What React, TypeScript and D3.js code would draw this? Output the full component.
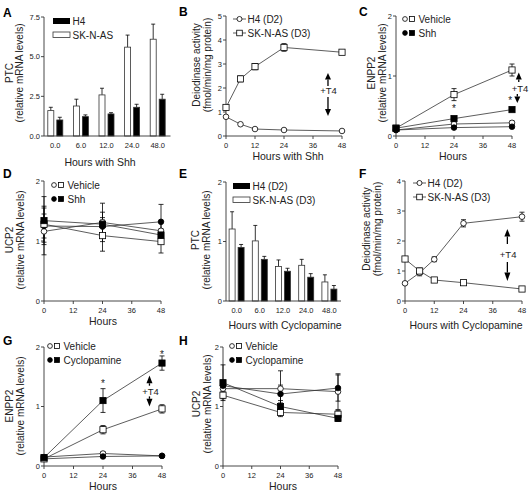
import React from 'react';
import * as d3 from 'd3';

const FONT = '"Liberation Sans", Arial, Helvetica, sans-serif';
const INK = '#222';
const LINE = '#333';

// ---------- Panel A ----------
const aHours = ['0.0', '6.0', '12.0', '24.0', '48.0'];
const aSKNAS = [1.6, 1.89, 2.59, 5.6, 6.1];
const aSKNASErr = [0.21, 0.43, 0.42, 0.76, 0.95];
const aH4 = [1.01, 1.22, 1.39, 1.81, 2.32];
const aH4Err = [0.17, 0.11, 0.08, 0.19, 0.31];
const aYTicks = [0, 2.5, 5, 7.5];

// ---------- Panel B ----------
const bHours = [0, 6, 12, 24, 48];
const bH4 = [0.8, 0.49, 0.29, 0.25, 0.21];
const bH4Err = [0.04, 0.03, 0.03, 0.03, 0.02];
const bSKNAS = [1.19, 2.38, 2.89, 3.69, 3.49];
const bSKNASErr = [0.06, 0.12, 0.13, 0.16, 0.05];
const bYTicks = [0, 1, 2, 3, 4, 5];

// ---------- shared ----------
const timeHours = [0, 24, 48];
const hourTicks = [0, 12, 24, 36, 48];
const unitTicks2 = [0, 1, 2];

// ---------- Panel C ----------
const cVehicleH4 = [0.1, 0.2, 0.22];
const cVehicleH4Err = [0.02, 0.02, 0.03];
const cVehicleSK = [0.13, 0.69, 1.1];
const cVehicleSKErr = [0.04, 0.1, 0.1];
const cShhH4 = [0.1, 0.14, 0.155];
const cShhH4Err = [0.02, 0.02, 0.02];
const cShhSK = [0.13, 0.29, 0.44];
const cShhSKErr = [0.03, 0.02, 0.02];

// ---------- Panel D ----------
const dVehicleH4 = [1.16, 1.31, 1.17];
const dVehicleH4Err = [0.39, 0.32, 0.15];
const dVehicleSK = [1.28, 1.09, 0.99];
const dVehicleSKErr = [0.3, 0.26, 0.19];
const dShhH4 = [1.25, 1.24, 1.32];
const dShhH4Err = [0.2, 0.15, 0.29];
const dShhSK = [1.34, 1.28, 1.1];
const dShhSKErr = [0.4, 0.2, 0.1];

// ---------- Panel E ----------
const eHours = ['0.0', '6.0', '12.0', '24.0', '48.0'];
const eSKNAS = [1.21, 1.01, 0.58, 0.6, 0.32];
const eSKNASErr = [0.29, 0.26, 0.11, 0.1, 0.12];
const eH4 = [0.9, 0.7, 0.5, 0.4, 0.2];
const eH4Err = [0.05, 0.05, 0.05, 0.06, 0.06];

// ---------- Panel F ----------
const fHours = [0, 6, 12, 24, 48];
const fH4 = [0.59, 0.94, 1.39, 2.59, 2.81];
const fH4Err = [0.04, 0.1, 0.08, 0.12, 0.15];
const fSKNAS = [1.4, 1.0, 0.7, 0.61, 0.4];
const fSKNASErr = [0.04, 0.1, 0.05, 0.04, 0.04];
const fYTicks = [0, 1, 2, 3, 4];

// ---------- Panel G ----------
const gVehicleH4 = [0.15, 0.21, 0.17];
const gVehicleH4Err = [0.03, 0.03, 0.02];
const gVehicleSK = [0.12, 0.61, 0.96];
const gVehicleSKErr = [0.04, 0.07, 0.07];
const gCycloH4 = [0.12, 0.16, 0.17];
const gCycloH4Err = [0.03, 0.02, 0.02];
const gCycloSK = [0.14, 1.1, 1.73];
const gCycloSKErr = [0.05, 0.2, 0.12];

// ---------- Panel H ----------
const hVehicleH4 = [1.3, 1.3, 1.25];
const hVehicleH4Err = [0.06, 0.3, 0.3];
const hVehicleSK = [1.19, 0.9, 0.87];
const hVehicleSKErr = [0.06, 0.07, 0.06];
const hCycloH4 = [1.35, 1.21, 1.31];
const hCycloH4Err = [0.06, 0.15, 0.22];
const hCycloSK = [1.4, 1.0, 0.8];
const hCycloSKErr = [0.3, 0.1, 0.05];

type Shape = 'circle' | 'square';
type Series = { values: number[]; errs: number[]; shape: Shape; filled: boolean; color?: string };

function Marker({ x, y, shape, filled, s = 1 }: { x: number; y: number; shape: Shape; filled: boolean; s?: number }) {
  const fill = filled ? '#000' : '#fff';
  if (shape === 'circle') {
    return <circle cx={x} cy={y} r={2.8 * s} fill={fill} stroke="#000" strokeWidth={0.8} />;
  }
  const h = 3.1 * s;
  return <rect x={x - h} y={y - h} width={2 * h} height={2 * h} fill={fill} stroke="#000" strokeWidth={0.8} />;
}

function YTitle({ lines, xs, cy }: { lines: string[]; xs: number[]; cy: number }) {
  return (
    <g>
      {lines.map((l, i) => (
        <text key={i} transform={`translate(${xs[i]},${cy}) rotate(-90)`} textAnchor="middle" fontSize={10} fill={INK}>
          {l}
        </text>
      ))}
    </g>
  );
}

function PanelLetter({ x, y, t }: { x: number; y: number; t: string }) {
  return (
    <text x={x} y={y} fontSize={12} fontWeight="bold" fill="#000">
      {t}
    </text>
  );
}

function VArrow({ x, tip, base, stemEnd }: { x: number; tip: number; base: number; stemEnd: number }) {
  return (
    <g>
      <line x1={x} x2={x} y1={base} y2={stemEnd} stroke="#000" strokeWidth={1.3} />
      <polygon points={`${x},${tip} ${x - 3},${base} ${x + 3},${base}`} fill="#000" />
    </g>
  );
}

function LinePanel(props: {
  x0: number; x1: number; y0: number; y1: number; yMax: number; yTicks: number[];
  hours: number[]; series: Series[]; children?: (x: any, y: any) => React.ReactNode;
}) {
  const { x0, x1, y0, y1, yMax, yTicks, hours, series, children } = props;
  const x = d3.scaleLinear().domain([0, 48]).range([x0, x1]);
  const y = d3.scaleLinear().domain([0, yMax]).range([y0, y1]);
  const line = d3.line<number>().x((_, i) => x(hours[i])).y((d) => y(d));
  return (
    <g fontFamily={FONT}>
      <line x1={x0} x2={x0} y1={y0} y2={y1} stroke={LINE} strokeWidth={0.9} />
      <line x1={x0} x2={x1} y1={y0} y2={y0} stroke={LINE} strokeWidth={0.9} />
      {yTicks.map((t) => (
        <g key={'y' + t}>
          <line x1={x0 - 3} x2={x0} y1={y(t)} y2={y(t)} stroke={LINE} strokeWidth={0.9} />
          <text x={x0 - 4} y={y(t) + 2.6} textAnchor="end" fontSize={7.5} fill={INK}>{t}</text>
        </g>
      ))}
      {hourTicks.map((t) => (
        <g key={'x' + t}>
          <line x1={x(t)} x2={x(t)} y1={y0} y2={y0 + 3} stroke={LINE} strokeWidth={0.9} />
          <text x={x(t)} y={y0 + 11.5} textAnchor="middle" fontSize={7.5} fill={INK}>{t}</text>
        </g>
      ))}
      {series.map((s, i) => (
        <path key={'l' + i} d={line(s.values) || ''} fill="none" stroke={s.color || LINE} strokeWidth={0.8} />
      ))}
      {series.map((s, i) =>
        s.values.map((v, j) => {
          const e = s.errs[j];
          const cx = x(hours[j]);
          return (
            <g key={'e' + i + '-' + j} stroke="#000" strokeWidth={0.8}>
              <line x1={cx} x2={cx} y1={y(v - e)} y2={y(v + e)} />
              <line x1={cx - 2.5} x2={cx + 2.5} y1={y(v + e)} y2={y(v + e)} />
              <line x1={cx - 2.5} x2={cx + 2.5} y1={y(v - e)} y2={y(v - e)} />
            </g>
          );
        })
      )}
      {series.map((s, i) =>
        s.values.map((v, j) => (
          <Marker key={'m' + i + '-' + j} x={x(hours[j])} y={y(v)} shape={s.shape} filled={s.filled} />
        ))
      )}
      {children ? children(x, y) : null}
    </g>
  );
}

function BarPanel(props: {
  axisX: number; r0: number; r1: number; y0: number; y1: number; yMax: number; yTicks: number[];
  cats: string[]; white: number[]; whiteErr: number[]; black: number[]; blackErr: number[]; fmt: (n: number) => string;
}) {
  const { axisX, r0, r1, y0, y1, yMax, yTicks, cats, white, whiteErr, black, blackErr, fmt } = props;
  const xb = d3.scaleBand<string>().domain(cats).range([r0, r1]);
  const y = d3.scaleLinear().domain([0, yMax]).range([y0, y1]);
  const c = (k: string) => (xb(k) as number) + xb.bandwidth() / 2;
  const bw = 6;
  const bar = (cx: number, v: number, e: number, filled: boolean, key: string) => (
    <g key={key}>
      <line x1={cx} x2={cx} y1={y(v)} y2={y(v + e)} stroke="#000" strokeWidth={0.8} />
      <line x1={cx - 2} x2={cx + 2} y1={y(v + e)} y2={y(v + e)} stroke="#000" strokeWidth={0.8} />
      <rect x={cx - bw / 2} y={y(v)} width={bw} height={y(0) - y(v)} fill={filled ? '#000' : '#fff'} stroke="#333" strokeWidth={0.8} />
    </g>
  );
  return (
    <g fontFamily={FONT}>
      {cats.map((k, i) => (
        <g key={k}>
          {bar(c(k) - 4.5, white[i], whiteErr[i], false, 'w' + k)}
          {bar(c(k) + 4.5, black[i], blackErr[i], true, 'b' + k)}
          <text x={c(k)} y={y0 + 11.5} textAnchor="middle" fontSize={7.5} fill={INK}>{k}</text>
        </g>
      ))}
      <line x1={axisX} x2={axisX} y1={y0} y2={y1} stroke={LINE} strokeWidth={0.9} />
      <line x1={axisX} x2={r1} y1={y0} y2={y0} stroke={LINE} strokeWidth={0.9} />
      {yTicks.map((t) => (
        <g key={'y' + t}>
          <line x1={axisX - 3} x2={axisX} y1={y(t)} y2={y(t)} stroke={LINE} strokeWidth={0.9} />
          <text x={axisX - 4} y={y(t) + 2.6} textAnchor="end" fontSize={7.5} fill={INK}>{fmt(t)}</text>
        </g>
      ))}
    </g>
  );
}

function BarLegend({ x, y, labels }: { x: number; y: number; labels: string[] }) {
  return (
    <g fontFamily={FONT}>
      <rect x={x} y={y - 3} width={17} height={6} fill="#000" />
      <text x={x + 19.5} y={y + 3.5} fontSize={10} fill={INK}>{labels[0]}</text>
      <rect x={x} y={y + 11} width={17} height={5.5} fill="#fff" stroke="#333" strokeWidth={0.8} />
      <text x={x + 19.5} y={y + 17.5} fontSize={10} fill={INK}>{labels[1]}</text>
    </g>
  );
}

function LineLegend({ x, y, labels }: { x: number; y: number; labels: string[] }) {
  return (
    <g fontFamily={FONT}>
      <line x1={x} x2={x + 13} y1={y} y2={y} stroke={LINE} strokeWidth={0.8} />
      <Marker x={x + 6.5} y={y} shape="circle" filled={false} s={0.9} />
      <text x={x + 14.5} y={y + 3.5} fontSize={10} fill={INK}>{labels[0]}</text>
      <line x1={x} x2={x + 13} y1={y + 14} y2={y + 14} stroke={LINE} strokeWidth={0.8} />
      <Marker x={x + 6.5} y={y + 14} shape="square" filled={false} s={0.9} />
      <text x={x + 14.5} y={y + 17.5} fontSize={10} fill={INK}>{labels[1]}</text>
    </g>
  );
}

function PairLegend({ x, y, labels }: { x: number; y: number; labels: string[] }) {
  return (
    <g fontFamily={FONT}>
      <Marker x={x} y={y} shape="circle" filled={false} s={0.85} />
      <Marker x={x + 7} y={y} shape="square" filled={false} s={0.8} />
      <text x={x + 13.5} y={y + 3.5} fontSize={10} fill={INK}>{labels[0]}</text>
      <Marker x={x} y={y + 14} shape="circle" filled={true} s={0.85} />
      <Marker x={x + 7} y={y + 14} shape="square" filled={true} s={0.8} />
      <text x={x + 13.5} y={y + 17.5} fontSize={10} fill={INK}>{labels[1]}</text>
    </g>
  );
}

function XTitle({ x, y, t }: { x: number; y: number; t: string }) {
  return <text x={x} y={y} textAnchor="middle" fontSize={10.5} fill={INK} fontFamily={FONT}>{t}</text>;
}

function quad(vh4: number[], vh4e: number[], vsk: number[], vske: number[], sh4: number[], sh4e: number[], ssk: number[], sske: number[]): Series[] {
  return [
    { values: vh4, errs: vh4e, shape: 'circle', filled: false },
    { values: sh4, errs: sh4e, shape: 'circle', filled: true },
    { values: vsk, errs: vske, shape: 'square', filled: false },
    { values: ssk, errs: sske, shape: 'square', filled: true },
  ];
}

export default function App() {
  const f1 = d3.format('.1f');
  const fi = d3.format('d');
  return (
    <svg width={530} height={495} style={{ position: 'absolute', left: 0, top: 0, background: '#fff' }} fontFamily={FONT}>
      {/* A */}
      <PanelLetter x={3} y={17} t="A" />
      <BarPanel axisX={44} r0={42.5} r1={170.5} y0={136} y1={17} yMax={7.5} yTicks={aYTicks}
        cats={aHours} white={aSKNAS} whiteErr={aSKNASErr} black={aH4} blackErr={aH4Err} fmt={f1} />
      <BarLegend x={53} y={21} labels={['H4', 'SK-N-AS']} />
      <YTitle lines={['PTC', '(relative mRNA levels)']} xs={[12.5, 22.5]} cy={73} />
      <XTitle x={100} y={166} t="Hours with Shh" />

      {/* B */}
      <PanelLetter x={179} y={16} t="B" />
      <LinePanel x0={226} x1={342} y0={136} y1={16} yMax={5} yTicks={bYTicks} hours={bHours}
        series={[
          { values: bH4, errs: bH4Err, shape: 'circle', filled: false },
          { values: bSKNAS, errs: bSKNASErr, shape: 'square', filled: false },
        ]}>
        {(x, y) => (
          <g>
            <VArrow x={x(42.2)} tip={y(2.63)} base={y(2.35)} stemEnd={y(2.08)} />
            <text x={x(42.4)} y={y(1.77)} textAnchor="middle" fontSize={9.5} fill={INK}>+T4</text>
            <VArrow x={x(42.2)} tip={y(0.83)} base={y(1.12)} stemEnd={y(1.63)} />
          </g>
        )}
      </LinePanel>
      <LineLegend x={233} y={19} labels={['H4 (D2)', 'SK-N-AS (D3)']} />
      <YTitle lines={['Deiodinase activity', '(fmol/min/mg protein)']} xs={[199.5, 210.5]} cy={65} />
      <XTitle x={288} y={160} t="Hours with Shh" />

      {/* C */}
      <PanelLetter x={359} y={16} t="C" />
      <LinePanel x0={396} x1={512} y0={136} y1={16} yMax={2} yTicks={unitTicks2} hours={timeHours}
        series={quad(cVehicleH4, cVehicleH4Err, cVehicleSK, cVehicleSKErr, cShhH4, cShhH4Err, cShhSK, cShhSKErr)}>
        {(x, y) => (
          <g>
            <text x={x(24)} y={y(0.4)} textAnchor="middle" fontSize={10} fill={INK}>*</text>
            <text x={x(47.3)} y={y(0.54)} textAnchor="middle" fontSize={10} fill={INK}>*</text>
            <VArrow x={x(50.8)} tip={y(1.06)} base={y(0.94)} stemEnd={y(0.9)} />
            <text x={x(47.9)} y={y(0.73)} fontSize={9.5} fill={INK}>+T4</text>
            <VArrow x={x(50.2)} tip={y(0.55)} base={y(0.66)} stemEnd={y(0.7)} />
          </g>
        )}
      </LinePanel>
      <PairLegend x={405} y={19} labels={['Vehicle', 'Shh']} />
      <YTitle lines={['ENPP2', '(relative mRNA levels)']} xs={[375, 385.5]} cy={73} />
      <XTitle x={453} y={160} t="Hours" />

      {/* D */}
      <PanelLetter x={3} y={178} t="D" />
      <LinePanel x0={44} x1={161} y0={301} y1={181} yMax={2} yTicks={unitTicks2} hours={timeHours}
        series={quad(dVehicleH4, dVehicleH4Err, dVehicleSK, dVehicleSKErr, dShhH4, dShhH4Err, dShhSK, dShhSKErr)} />
      <PairLegend x={54} y={185} labels={['Vehicle', 'Shh']} />
      <YTitle lines={['UCP2', '(relative mRNA levels)']} xs={[13, 23.5]} cy={240} />
      <XTitle x={103} y={325} t="Hours" />

      {/* E */}
      <PanelLetter x={179} y={178} t="E" />
      <BarPanel axisX={226} r0={225} r1={341} y0={301} y1={182} yMax={2} yTicks={unitTicks2}
        cats={eHours} white={eSKNAS} whiteErr={eSKNASErr} black={eH4} blackErr={eH4Err} fmt={fi} />
      <BarLegend x={233} y={186} labels={['H4 (D2)', 'SK-N-AS (D3)']} />
      <YTitle lines={['PTC', '(relative mRNA levels)']} xs={[199, 210]} cy={240} />
      <XTitle x={285} y={329} t="Hours with Cyclopamine" />

      {/* F */}
      <PanelLetter x={359} y={178} t="F" />
      <LinePanel x0={405} x1={522} y0={301} y1={181} yMax={4} yTicks={fYTicks} hours={fHours}
        series={[
          { values: fH4, errs: fH4Err, shape: 'circle', filled: false },
          { values: fSKNAS, errs: fSKNASErr, shape: 'square', filled: false },
        ]}>
        {(x, y) => (
          <g>
            <VArrow x={x(42)} tip={y(2.4)} base={y(2.15)} stemEnd={y(1.9)} />
            <text x={x(42.3)} y={y(1.43)} textAnchor="middle" fontSize={9.5} fill={INK}>+T4</text>
            <VArrow x={x(42)} tip={y(0.67)} base={y(0.95)} stemEnd={y(1.3)} />
          </g>
        )}
      </LinePanel>
      <LineLegend x={413} y={183} labels={['H4 (D2)', 'SK-N-AS (D3)']} />
      <YTitle lines={['Deiodinase activity', '(fmol/min/mg protein)']} xs={[369.5, 380.5]} cy={229} />
      <XTitle x={466} y={329} t="Hours with Cyclopamine" />

      {/* G */}
      <PanelLetter x={3} y={345} t="G" />
      <LinePanel x0={44} x1={162} y0={466} y1={347} yMax={2} yTicks={unitTicks2} hours={timeHours}
        series={quad(gVehicleH4, gVehicleH4Err, gVehicleSK, gVehicleSKErr, gCycloH4, gCycloH4Err, gCycloSK, gCycloSKErr)}>
        {(x, y) => (
          <g>
            <text x={x(24)} y={y(1.32)} textAnchor="middle" fontSize={10} fill={INK}>*</text>
            <text x={x(48)} y={y(1.82)} textAnchor="middle" fontSize={10} fill={INK}>*</text>
            <VArrow x={x(42.9)} tip={y(1.52)} base={y(1.39)} stemEnd={y(1.35)} />
            <text x={x(43.3)} y={y(1.19)} textAnchor="middle" fontSize={9.5} fill={INK}>+T4</text>
            <VArrow x={x(42.9)} tip={y(1.0)} base={y(1.13)} stemEnd={y(1.17)} />
          </g>
        )}
      </LinePanel>
      <PairLegend x={50} y={346} labels={['Vehicle', 'Cyclopamine']} />
      <YTitle lines={['ENPP2', '(relative mRNA levels)']} xs={[13, 23.5]} cy={406} />
      <XTitle x={103} y={490} t="Hours" />

      {/* H */}
      <PanelLetter x={179} y={345} t="H" />
      <LinePanel x0={223} x1={338} y0={466} y1={347} yMax={2} yTicks={unitTicks2} hours={timeHours}
        series={quad(hVehicleH4, hVehicleH4Err, hVehicleSK, hVehicleSKErr, hCycloH4, hCycloH4Err, hCycloSK, hCycloSKErr)} />
      <PairLegend x={232} y={346} labels={['Vehicle', 'Cyclopamine']} />
      <YTitle lines={['UCP2', '(relative mRNA levels)']} xs={[200, 211]} cy={404} />
      <XTitle x={283} y={490} t="Hours" />
    </svg>
  );
}
